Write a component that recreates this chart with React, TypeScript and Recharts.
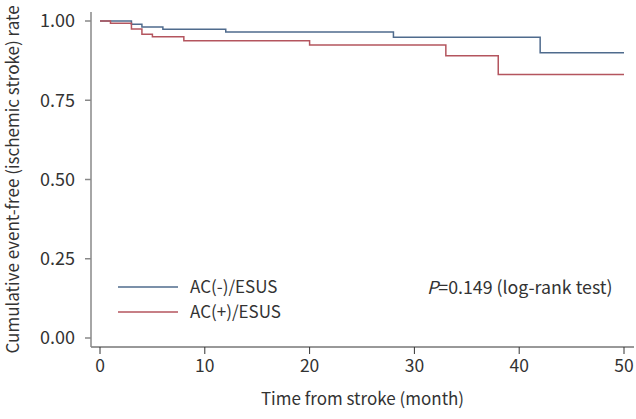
import React from "react";
import { LineChart, Line, XAxis, YAxis, Customized } from "recharts";

// AC(-)/ESUS Kaplan-Meier steps
const acNegTimes = [0, 3, 4, 6, 12, 28, 42, 50];
const acNegRate = [1.0, 0.99, 0.981, 0.974, 0.965, 0.949, 0.9, 0.9];
// AC(+)/ESUS Kaplan-Meier steps
const acPosTimes = [0, 1, 3, 4, 5, 8, 20, 33, 38, 50];
const acPosRate = [1.0, 0.993, 0.975, 0.958, 0.95, 0.938, 0.924, 0.89, 0.831, 0.831];

const xTicks = [0, 10, 20, 30, 40, 50];
const yTicks = [0, 0.25, 0.5, 0.75, 1.0];

const seriesNames = ["AC(-)/ESUS", "AC(+)/ESUS"];
const seriesColors = ["#4f6b8d", "#b4555e"];

const negData = acNegTimes.map((t, i) => ({ t, v: acNegRate[i] }));
const posData = acPosTimes.map((t, i) => ({ t, v: acPosRate[i] }));

const FONT = "'Noto Sans CJK KR', sans-serif";

const LegendContent = () => (
  <g>
    {seriesNames.map((n, i) => (
      <g key={n}>
        <line x1={118} x2={178} y1={287 + i * 25} y2={287 + i * 25} stroke={seriesColors[i]} strokeWidth={1.5} />
        <text x={190} y={287 + i * 25} dy="0.35em" fontSize={17} fill="#333" fontFamily={FONT}>
          {n}
        </text>
      </g>
    ))}
  </g>
);

const PText = () => (
  <text x={427} y={288} dy="0.35em" fontSize={17.8} fill="#333" fontFamily={FONT}>
    <tspan fontStyle="italic">P</tspan>
    <tspan>=0.149 (log-rank test)</tspan>
  </text>
);

export default function App() {
  return (
    <div style={{ position: "absolute", left: 0, top: 0, width: 636, height: 419, background: "#fff" }}>
      <LineChart width={636} height={419} margin={{ top: 12, right: 2, bottom: 32, left: 0 }}>
        <XAxis
          dataKey="t"
          type="number"
          domain={[0, 50]}
          ticks={xTicks}
          padding={{ left: 9, right: 10 }}
          stroke="#333"
          tickSize={7}
          tickMargin={6}
          height={40}
          tick={{ fill: "#333", fontSize: 17.5, fontFamily: FONT }}
          allowDuplicatedCategory={false}
          label={{ value: "Time from stroke (month)", position: "insideBottom", offset: -18, fill: "#333", fontSize: 17, fontFamily: FONT }}
        />
        <YAxis
          type="number"
          domain={[0, 1]}
          ticks={yTicks}
          tickFormatter={(v: number) => v.toFixed(2)}
          padding={{ top: 9, bottom: 9 }}
          stroke="#888"
          strokeWidth={1.5}
          width={91}
          tickSize={6}
          tickMargin={10}
          tick={{ fill: "#333", fontSize: 18, fontFamily: FONT }}
          label={{ value: "Cumulative event-free (ischemic stroke) rate", angle: -90, position: "center", dx: -33, fill: "#333", fontSize: 17, fontFamily: FONT }}
        />
        <Line data={negData} dataKey="v" type="stepAfter" stroke={seriesColors[0]} strokeWidth={1.5} dot={false} isAnimationActive={false} name={seriesNames[0]} />
        <Line data={posData} dataKey="v" type="stepAfter" stroke={seriesColors[1]} strokeWidth={1.5} dot={false} isAnimationActive={false} name={seriesNames[1]} />
        <Customized component={<LegendContent />} />
        <Customized component={<PText />} />
      </LineChart>
    </div>
  );
}
